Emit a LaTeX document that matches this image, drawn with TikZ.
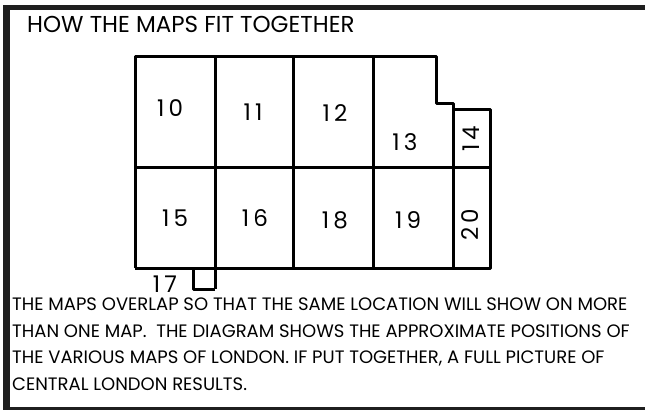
\documentclass[tikz,border=0pt]{standalone}
\usepackage{fontspec}
\setmainfont{Poppins}
\newfontfamily\numfont[LetterSpace=18]{Poppins}

\begin{document}
\begin{tikzpicture}[x=1pt, y=-1pt, line join=round,
    grid/.style={line width=3pt, black},
    mapno/.style={font=\numfont\fontsize{23}{23}\selectfont, inner sep=0pt},
    noteline/.style={anchor=base west, inner sep=0pt, text height=12.6pt, text depth=0pt,
      font=\fontsize{18}{18}\selectfont}]
  \useasboundingbox (0,0) rectangle (645,410);

  % Rahmen
  \fill[black!88] (3,5) rectangle (645,10);
  \fill[black!88] (3,5) rectangle (10,410);
  \fill[black!88] (3,407) rectangle (645,410);

  % Titel
  \node[anchor=base west, inner sep=0pt, font=\fontsize{23}{23}\selectfont] (title) at (27,32) {HOW THE MAPS FIT TOGETHER};

  % Umriss der Karten
  \draw[grid] (135,268) -- (135,56) -- (436,56) -- (436,103) -- (453,103) -- (453,268);
  \draw[grid] (453,109) -- (490,109) -- (490,268) -- (135,268);
  \draw[grid] (135,167) -- (490,167);
  \draw[grid] (215,56) -- (215,289);
  \draw[grid] (293,56) -- (293,268);
  \draw[grid] (373,56) -- (373,268);
  % Karte 17
  \draw[grid] (193,268) -- (193,289) -- (215,289);

  % Nummern
  \node[mapno] (m10) at (170,108) {10};
  \node[mapno] (m11) at (253,112) {11};
  \node[mapno] (m12) at (335,113) {12};
  \node[mapno] (m13) at (405,142) {13};
  \node[mapno, rotate=90] (m14) at (471,139) {14};
  \node[mapno] (m15) at (175,218) {15};
  \node[mapno] (m16) at (255,218) {16};
  \node[mapno] (m18) at (335,220) {18};
  \node[mapno] (m19) at (408,220) {19};
  \node[mapno, rotate=90] (m20) at (470,225) {20};
  \node[mapno] (m17) at (165,284) {17};

  % Text
  \node[noteline] (note1) at (12,310.5) {THE MAPS OVERLAP SO THAT THE SAME LOCATION WILL SHOW ON MORE};
  \node[noteline] (note2) at (12,337) {THAN ONE MAP.\ \ THE DIAGRAM SHOWS THE APPROXIMATE POSITIONS OF};
  \node[noteline] (note3) at (12,363.5) {THE VARIOUS MAPS OF LONDON. IF PUT TOGETHER, A FULL PICTURE OF};
  \node[noteline] (note4) at (12,390) {CENTRAL LONDON RESULTS.};
\end{tikzpicture}
\end{document}
